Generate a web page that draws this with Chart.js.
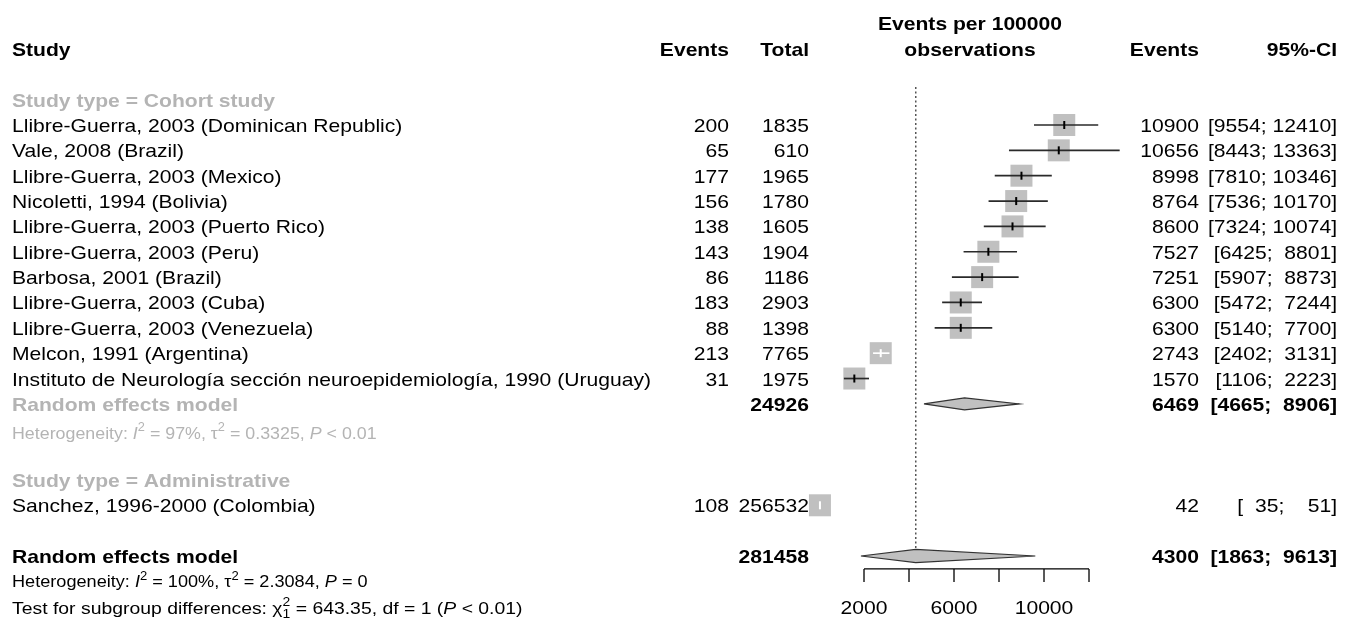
<!DOCTYPE html>
<html>
<head>
<meta charset="utf-8">
<script src="https://cdn.jsdelivr.net/npm/chart.js@4.4.1/dist/chart.umd.min.js"></script>
<style>
html,body{margin:0;padding:0;background:#fff;}
#wrap{width:1353px;height:619px;position:relative;}
</style>
</head>
<body>
<div id="wrap"><canvas id="c"></canvas></div>
<script>
// ---------------- data ----------------
const cohortStudies = [
  "Llibre-Guerra, 2003 (Dominican Republic)",
  "Vale, 2008 (Brazil)",
  "Llibre-Guerra, 2003 (Mexico)",
  "Nicoletti, 1994 (Bolivia)",
  "Llibre-Guerra, 2003 (Puerto Rico)",
  "Llibre-Guerra, 2003 (Peru)",
  "Barbosa, 2001 (Brazil)",
  "Llibre-Guerra, 2003 (Cuba)",
  "Llibre-Guerra, 2003 (Venezuela)",
  "Melcon, 1991 (Argentina)",
  "Instituto de Neurología sección neuroepidemiología, 1990 (Uruguay)"
];
const cohortEvents = [200, 65, 177, 156, 138, 143, 86, 183, 88, 213, 31];
const cohortTotals = [1835, 610, 1965, 1780, 1605, 1904, 1186, 2903, 1398, 7765, 1975];
const cohortRates  = [10900, 10656, 8998, 8764, 8600, 7527, 7251, 6300, 6300, 2743, 1570];
const cohortLower  = [9554, 8443, 7810, 7536, 7324, 6425, 5907, 5472, 5140, 2402, 1106];
const cohortUpper  = [12410, 13363, 10346, 10170, 10074, 8801, 8873, 7244, 7700, 3131, 2223];

const adminStudies = ["Sanchez, 1996-2000 (Colombia)"];
const adminEvents = [108];
const adminTotals = [256532];
const adminRates  = [42];
const adminLower  = [35];
const adminUpper  = [51];

const cohortModel  = {total: 24926, rate: 6469, lower: 4665, upper: 8906};
const overallModel = {total: 281458, rate: 4300, lower: 1863, upper: 9613};

const xTicks = [2000, 4000, 6000, 8000, 10000, 12000];
const xTickLabels = ["2000", "", "6000", "", "10000", ""];

// ---------------- layout helpers ----------------
const FONT = '"Liberation Sans", Arial, Helvetica, sans-serif';
const FS = 19, SX = 1.11;
const GRAY = '#b4b4b4';
const SQ = 22;           // square side (px)
const cohortRows = cohortStudies.map((_, i) => i + 1);
const adminRows = [16];
const ROW_COHORT_RE = 12, ROW_OVERALL = 18;

const allRates = cohortRates.concat(adminRates);
const allLower = cohortLower.concat(adminLower);
const allUpper = cohortUpper.concat(adminUpper);
const allRows  = cohortRows.concat(adminRows);

function ciInside(chart, i) {
  const x = chart.scales.x;
  if (!x) return false;
  const w = x.getPixelForValue(allUpper[i]) - x.getPixelForValue(allLower[i]);
  return w < SQ;
}

const datasets = [];
// dotted reference line
datasets.push({
  type: 'line', order: 5,
  data: [{x: overallModel.rate, y: -0.5}, {x: overallModel.rate, y: 17.68}],
  borderColor: '#555', borderWidth: 1.5, borderDash: [2, 2.5], pointRadius: 0, fill: false
});
// squares
datasets.push({
  type: 'scatter', order: 4,
  data: allRates.map((r, i) => ({x: r, y: allRows[i]})),
  pointStyle: 'rect', pointRadius: SQ / 2 / Math.SQRT1_2, pointHoverRadius: SQ / 2 / Math.SQRT1_2,
  backgroundColor: '#c0c0c0', borderWidth: 0
});
// CI lines
allRates.forEach((r, i) => {
  datasets.push({
    type: 'line', order: 3,
    data: [{x: allLower[i], y: allRows[i]}, {x: allUpper[i], y: allRows[i]}],
    borderColor: (c) => ciInside(c.chart, i) ? '#ffffff' : '#2a2a2a',
    borderWidth: 1.7, pointRadius: 0, fill: false
  });
});
// point estimate ticks
datasets.push({
  type: 'scatter', order: 2,
  data: allRates.map((r, i) => ({x: r, y: allRows[i]})),
  pointStyle: 'line', rotation: 90, pointRadius: 4, pointHoverRadius: 4, borderWidth: 2,
  borderColor: (c) => (c.dataIndex !== undefined && ciInside(c.chart, c.dataIndex)) ? '#ffffff' : '#000000'
});
// diamonds
function diamond(m, row, h) {
  return [{x: m.lower, y: row}, {x: m.rate, y: row - h}, {x: m.upper, y: row}, {x: m.rate, y: row + h}, {x: m.lower, y: row}];
}
datasets.push({
  type: 'line', order: 1, data: diamond(cohortModel, ROW_COHORT_RE, 0.24),
  borderColor: '#333', borderWidth: 1.2, backgroundColor: '#c0c0c0', fill: 'shape', pointRadius: 0, tension: 0
});
datasets.push({
  type: 'line', order: 1, data: diamond(overallModel, ROW_OVERALL, 0.26),
  borderColor: '#333', borderWidth: 1.2, backgroundColor: '#c0c0c0', fill: 'shape', pointRadius: 0, tension: 0
});

// ---------------- text drawing ----------------
function fmtCI(lo, hi) {
  return '[' + String(lo).padStart(4, ' ') + '; ' + String(hi).padStart(5, ' ') + ']';
}
function font(size, bold, italic) {
  return (italic ? 'italic ' : '') + (bold ? 'bold ' : '') + size + 'px ' + FONT;
}
function txt(ctx, s, x, y, opt) {
  opt = opt || {};
  const sx = opt.sx || SX;
  ctx.save();
  ctx.font = font(opt.size || FS, opt.bold, opt.italic);
  ctx.fillStyle = opt.color || '#000';
  ctx.textBaseline = 'alphabetic';
  const w = ctx.measureText(s).width * sx;
  let x0 = x;
  if (opt.align === 'right') x0 = x - w;
  else if (opt.align === 'center') x0 = x - w / 2;
  ctx.translate(x0, y);
  ctx.scale(sx, 1);
  ctx.fillText(s, 0, 0);
  ctx.restore();
  return w;
}
function rich(ctx, segs, x, y, size, color, sx) {
  let cx = x;
  segs.forEach(sg => {
    if (sg.supsub) {
      const w1 = txt(ctx, sg.supsub[0], cx, y - size * 0.45, {size: size * 0.72, color, sx});
      const w2 = txt(ctx, sg.supsub[1], cx, y + size * 0.28, {size: size * 0.72, color, sx});
      cx += Math.max(w1, w2);
    } else if (sg.sup) {
      cx += txt(ctx, sg.sup, cx, y - size * 0.45, {size: size * 0.72, color, sx});
    } else {
      cx += txt(ctx, sg.t, cx, y, {size, color, italic: sg.i, sx});
    }
  });
}

const textPlugin = {
  id: 'forestText',
  afterDraw(chart) {
    const ctx = chart.ctx, ys = chart.scales.y, xs = chart.scales.x;
    const Y = (r) => ys.getPixelForValue(r) + 7;
    const L = 12, EV = 729, TOT = 809, REV = 1199, CI = 1337;
    // headers
    txt(ctx, 'Study', L, Y(-2), {bold: true});
    txt(ctx, 'Events', EV, Y(-2), {bold: true, align: 'right'});
    txt(ctx, 'Total', TOT, Y(-2), {bold: true, align: 'right'});
    txt(ctx, 'Events per 100000', 970, Y(-3.04), {bold: true, align: 'center'});
    txt(ctx, 'observations', 970, Y(-2), {bold: true, align: 'center'});
    txt(ctx, 'Events', REV, Y(-2), {bold: true, align: 'right'});
    txt(ctx, '95%-CI', CI, Y(-2), {bold: true, align: 'right'});
    // cohort subgroup
    txt(ctx, 'Study type = Cohort study', L, Y(0), {bold: true, color: GRAY});
    cohortStudies.forEach((s, i) => {
      const r = cohortRows[i];
      txt(ctx, s, L, Y(r));
      txt(ctx, String(cohortEvents[i]), EV, Y(r), {align: 'right'});
      txt(ctx, String(cohortTotals[i]), TOT, Y(r), {align: 'right'});
      txt(ctx, String(cohortRates[i]), REV, Y(r), {align: 'right'});
      txt(ctx, fmtCI(cohortLower[i], cohortUpper[i]), CI, Y(r), {align: 'right'});
    });
    txt(ctx, 'Random effects model', L, Y(ROW_COHORT_RE), {bold: true, color: GRAY});
    txt(ctx, String(cohortModel.total), TOT, Y(ROW_COHORT_RE), {bold: true, align: 'right'});
    txt(ctx, String(cohortModel.rate), REV, Y(ROW_COHORT_RE), {bold: true, align: 'right'});
    txt(ctx, fmtCI(cohortModel.lower, cohortModel.upper), CI, Y(ROW_COHORT_RE), {bold: true, align: 'right'});
    rich(ctx, [{t: 'Heterogeneity: '}, {t: 'I', i: true}, {sup: '2'}, {t: ' = 97%, '}, {t: 'τ'}, {sup: '2'},
               {t: ' = 0.3325, '}, {t: 'P', i: true}, {t: ' < 0.01'}], L, Y(13.1), 16.5, GRAY, 1.08);
    // admin subgroup
    txt(ctx, 'Study type = Administrative', L, Y(15), {bold: true, color: GRAY});
    adminStudies.forEach((s, i) => {
      const r = adminRows[i];
      txt(ctx, s, L, Y(r));
      txt(ctx, String(adminEvents[i]), EV, Y(r), {align: 'right'});
      txt(ctx, String(adminTotals[i]), TOT, Y(r), {align: 'right'});
      txt(ctx, String(adminRates[i]), REV, Y(r), {align: 'right'});
      txt(ctx, fmtCI(adminLower[i], adminUpper[i]), CI, Y(r), {align: 'right'});
    });
    // overall
    txt(ctx, 'Random effects model', L, Y(ROW_OVERALL), {bold: true});
    txt(ctx, String(overallModel.total), TOT, Y(ROW_OVERALL), {bold: true, align: 'right'});
    txt(ctx, String(overallModel.rate), REV, Y(ROW_OVERALL), {bold: true, align: 'right'});
    txt(ctx, fmtCI(overallModel.lower, overallModel.upper), CI, Y(ROW_OVERALL), {bold: true, align: 'right'});
    rich(ctx, [{t: 'Heterogeneity: '}, {t: 'I', i: true}, {sup: '2'}, {t: ' = 100%, '}, {t: 'τ'}, {sup: '2'},
               {t: ' = 2.3084, '}, {t: 'P', i: true}, {t: ' = 0'}], L, Y(18.95), 16.8, '#000', 1.08);
    rich(ctx, [{t: 'Test for subgroup differences: '}, {t: 'χ'}, {supsub: ['2', '1']},
               {t: ' = 643.35, df = 1 ('}, {t: 'P', i: true}, {t: ' < 0.01)'}], L, Y(20), 16.8, '#000', 1.155);
    // x axis
    const ay = ys.getPixelForValue(18.51);
    const x0 = xs.getPixelForValue(xTicks[0]), x1 = xs.getPixelForValue(xTicks[xTicks.length - 1]);
    ctx.save();
    ctx.strokeStyle = '#000'; ctx.lineWidth = 1.3;
    ctx.beginPath(); ctx.moveTo(x0, ay); ctx.lineTo(x1, ay);
    xTicks.forEach(t => { const px = xs.getPixelForValue(t); ctx.moveTo(px, ay); ctx.lineTo(px, ay + 13); });
    ctx.stroke();
    ctx.restore();
    xTicks.forEach((t, i) => {
      if (xTickLabels[i]) txt(ctx, xTickLabels[i], xs.getPixelForValue(t), Y(20), {align: 'center'});
    });
  }
};

new Chart(document.getElementById('c'), {
  data: {datasets},
  options: {
    responsive: true, maintainAspectRatio: false, animation: false,
    layout: {padding: 0, autoPadding: false},
    events: [],
    plugins: {legend: {display: false}, tooltip: {enabled: false}},
    scales: {
      x: {type: 'linear', min: -36400, max: 23733, display: false},
      y: {type: 'linear', min: -3.93, max: 20.485, reverse: true, display: false}
    }
  },
  plugins: [textPlugin]
});
</script>
</body>
</html>
